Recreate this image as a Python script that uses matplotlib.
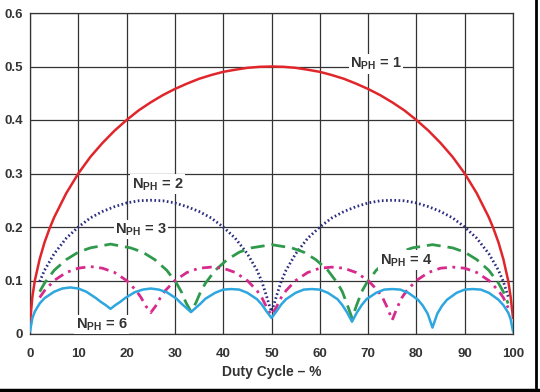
import matplotlib.pyplot as plt
from matplotlib.lines import Line2D

plt.rcParams['font.family'] = ['Liberation Sans', 'DejaVu Sans']

# values (duty cycle in %, normalised ripple)
duty_1 = [0, 0.5, 1, 2, 3, 4, 5, 7.5, 10, 12.5, 15, 17.5, 20, 22.5, 25, 27.5, 30, 32.5, 35, 37.5, 40, 42.5, 45, 47.5, 50,
          52.5, 55, 57.5, 60, 62.5, 65, 67.5, 70, 72.5, 75, 77.5, 80, 82.5, 85, 87.5, 90, 92.5, 95, 96, 97, 98, 99, 99.5, 100]
ripple_1 = [0.02, 0.07, 0.10, 0.14, 0.171, 0.196, 0.218, 0.263, 0.30, 0.331, 0.357, 0.38, 0.40, 0.418, 0.433, 0.4465,
            0.458, 0.468, 0.477, 0.484, 0.49, 0.494, 0.4975, 0.4994, 0.50,
            0.4994, 0.4975, 0.494, 0.49, 0.484, 0.477, 0.468, 0.458, 0.4465, 0.433, 0.418, 0.40, 0.38, 0.357, 0.331,
            0.30, 0.263, 0.218, 0.196, 0.171, 0.14, 0.10, 0.07, 0.03]

duty_2 = [2, 3, 5, 7.5, 10, 12.5, 15, 17.5, 20, 22.5, 25, 27.5, 30, 32.5, 35, 37.5, 40, 42.5, 45, 47, 48, 49, 49.5, 50,
          50.5, 51, 52, 53, 55, 57.5, 60, 62.5, 65, 67.5, 70, 72.5, 75, 77.5, 80, 82.5, 85, 87.5, 90, 92.5, 95, 97, 98, 99]
ripple_2 = [0.098, 0.119, 0.15, 0.179, 0.20, 0.217, 0.229, 0.238, 0.245, 0.249, 0.25, 0.249, 0.245, 0.238, 0.229, 0.217,
            0.20, 0.179, 0.15, 0.119, 0.098, 0.07, 0.055, 0.042,
            0.055, 0.07, 0.098, 0.119, 0.15, 0.179, 0.20, 0.217, 0.229, 0.238, 0.245, 0.249, 0.25, 0.249, 0.245, 0.238,
            0.229, 0.217, 0.20, 0.179, 0.15, 0.119, 0.098, 0.07]

duty_3 = [2, 3, 5, 7.5, 10, 12.5, 16.67, 20.83, 23.33, 25.83, 28.33, 30.33, 31.33, 32.33, 33.33,
          34.33, 35.33, 36.33, 38.33, 40.83, 43.33, 45.83, 50, 54.17, 56.67, 59.17, 61.67, 63.67, 64.67, 65.67, 66.67,
          67.67, 68.67, 69.67, 71.67, 74.17, 76.67, 79.17, 83.33, 87.5, 90, 92.5, 95, 97, 98, 99]
ripple_3 = [0.079, 0.095, 0.119, 0.139, 0.153, 0.161, 0.168, 0.161, 0.153, 0.139, 0.119, 0.095, 0.079, 0.058, 0.042,
            0.058, 0.079, 0.095, 0.119, 0.139, 0.153, 0.161, 0.167, 0.161, 0.153, 0.139, 0.119, 0.095, 0.079, 0.055, 0.03,
            0.055, 0.079, 0.095, 0.119, 0.139, 0.153, 0.161, 0.167, 0.161, 0.153, 0.139, 0.119, 0.095, 0.079, 0.057]

duty_4 = [2, 3, 5, 7.5, 10, 12.5, 15, 17.5, 20, 22, 23, 24, 25,
          26, 27, 28, 30, 32.5, 35, 37.5, 40, 42.5, 45, 47, 48, 49, 50,
          51, 52, 53, 55, 57.5, 60, 62.5, 65, 67.5, 70, 72, 73, 74, 75,
          76, 77, 78, 80, 82.5, 85, 87.5, 90, 92.5, 95, 97, 98, 99]
ripple_4 = [0.068, 0.081, 0.10, 0.115, 0.123, 0.126, 0.123, 0.115, 0.10, 0.081, 0.068, 0.052, 0.04,
            0.052, 0.068, 0.081, 0.10, 0.115, 0.123, 0.125, 0.123, 0.115, 0.10, 0.081, 0.068, 0.05, 0.035,
            0.05, 0.068, 0.081, 0.10, 0.115, 0.123, 0.125, 0.123, 0.115, 0.10, 0.081, 0.068, 0.049, 0.026,
            0.049, 0.068, 0.081, 0.10, 0.115, 0.123, 0.125, 0.123, 0.115, 0.10, 0.081, 0.068, 0.049]

duty_6 = [0, 0.5, 1, 2, 3, 5, 6.67, 8.33, 10, 11.67, 13.67, 14.67, 15.67, 16.67,
          17.67, 18.67, 19.67, 21.67, 23.33, 25, 26.67, 28.33, 30.33, 31.33, 32.33, 33.33,
          34.33, 35.33, 36.33, 38.33, 40, 41.67, 43.33, 45, 47, 48, 49, 50,
          51, 52, 53, 55, 56.67, 58.33, 60, 61.67, 63.67, 64.67, 65.67, 66.67,
          67.67, 68.67, 69.67, 71.67, 73.33, 75, 76.67, 78.33, 80.33, 81.33, 82.33, 83.33,
          84.33, 85.33, 86.33, 88.33, 90, 91.67, 93.33, 95, 97, 98, 99, 99.5, 100]
ripple_6 = [0.005, 0.03, 0.042, 0.057, 0.067, 0.079, 0.085, 0.087, 0.085, 0.079, 0.067, 0.06, 0.054, 0.047,
            0.054, 0.06, 0.067, 0.078, 0.083, 0.085, 0.083, 0.078, 0.066, 0.057, 0.049, 0.041,
            0.049, 0.057, 0.066, 0.077, 0.083, 0.084, 0.083, 0.077, 0.065, 0.055, 0.042, 0.03,
            0.042, 0.055, 0.065, 0.077, 0.083, 0.084, 0.083, 0.077, 0.065, 0.054, 0.04, 0.023,
            0.04, 0.054, 0.065, 0.077, 0.083, 0.084, 0.083, 0.077, 0.064, 0.053, 0.038, 0.012,
            0.038, 0.053, 0.064, 0.077, 0.083, 0.084, 0.083, 0.077, 0.064, 0.054, 0.04, 0.028, 0.005]

x_ticks = [0, 10, 20, 30, 40, 50, 60, 70, 80, 90, 100]
y_ticks = [0, 0.1, 0.2, 0.3, 0.4, 0.5, 0.6]
y_tick_labels = ["0", "0.1", "0.2", "0.3", "0.4", "0.5", "0.6"]

fig = plt.figure(figsize=(5.4, 3.92), dpi=100)
ax = fig.add_axes([30 / 540, 1 - 334 / 392, 483 / 540, 321 / 392])

ax.plot(duty_1, ripple_1, color="#e0262b", lw=1.8, solid_capstyle="round", zorder=3)
ax.plot(duty_2, ripple_2, color="#2c2e80", lw=2.0, linestyle=(0, (0.6, 0.9)), zorder=3)
ax.plot(duty_3, ripple_3, color="#2f9a4c", lw=2.0, linestyle=(0, (5, 2.5)), zorder=3)
ax.plot(duty_4, ripple_4, color="#d62a8c", lw=2.0, linestyle=(0, (3.5, 2, 1, 2)), zorder=3)
ax.plot(duty_6, ripple_6, color="#2ea6df", lw=1.8, zorder=3)

ax.set_xlim(0, 100)
ax.set_ylim(0, 0.6)
ax.set_xticks(x_ticks)
ax.set_yticks(y_ticks)
ax.set_yticklabels(y_tick_labels)
ax.grid(True, color="#333333", lw=0.9)
ax.set_axisbelow(True)
for s in ax.spines.values():
    s.set_color("#333333")
    s.set_linewidth(0.9)
ax.tick_params(length=0, labelsize=9.5, labelcolor="#333333")
ax.tick_params(axis="x", pad=10)
ax.tick_params(axis="y", pad=5)
for lab in ax.get_xticklabels() + ax.get_yticklabels():
    lab.set_fontweight("bold")
ax.set_xlabel("Duty Cycle \u2013 %", fontsize=10, color="#333333", fontweight="bold", labelpad=4)

label_box = dict(facecolor="white", edgecolor="none", pad=1.0)
labels = [("1", 71.6, 0.505), ("2", 26.4, 0.28), ("3", 23.0, 0.195), ("4", 77.8, 0.138), ("6", 14.8, 0.018)]
for n, lx, ly in labels:
    ax.text(lx, ly, "N$_{\\mathregular{PH}}$ = " + n, fontsize=10.5, color="#333333", fontweight="bold",
            ha="center", va="center", bbox=label_box, zorder=4)

# dark border at bottom and right of the original image
fig.add_artist(Line2D([0, 1], [0.004, 0.004], transform=fig.transFigure, color="black", lw=2.5))
fig.add_artist(Line2D([0.993, 0.993], [0, 1], transform=fig.transFigure, color="black", lw=2.0))

fig.savefig("out.png", dpi=100, facecolor="white")
